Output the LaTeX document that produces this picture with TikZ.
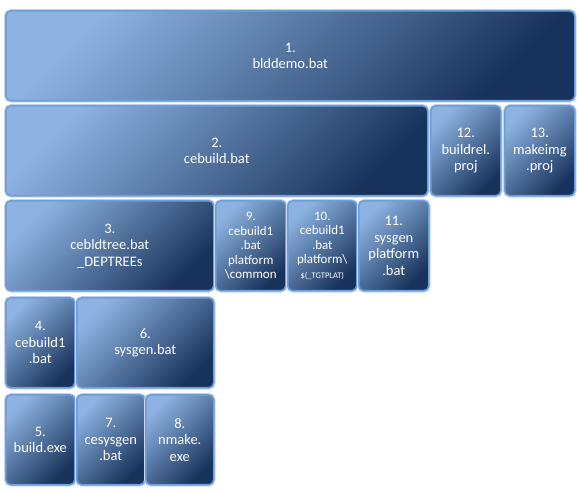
\documentclass[tikz,border=0pt]{standalone}
\usepackage{fontspec}
\setmainfont{Carlito}
\usepackage{tikz}
\definecolor{boxlight}{HTML}{8DB3E2}
\definecolor{boxmid}{HTML}{33537F}
\definecolor{boxdark}{HTML}{18335B}
\definecolor{boxedge}{HTML}{6F9DD9}
\definecolor{boxglow}{HTML}{C6D9F1}

\begin{document}
\begin{tikzpicture}[x=1pt,y=-1pt]
		\tikzset{blk/.style={rectangle, rounded corners=5pt, anchor=north west, inner sep=0pt,
				top color=boxlight, middle color=boxmid, bottom color=boxdark, shading angle=45,
				draw=boxedge, line width=1.6pt, preaction={draw=boxglow, line width=3.5pt},
				text=white, align=center, font=\fontsize{14.5}{16.5}\selectfont,
				minimum height=90pt},
			small/.style={font=\fontsize{13}{14.5}\selectfont}}
		\useasboundingbox (0,0) rectangle (579,494);
		% row 1
		\node[blk, minimum width=569pt] (blddemo) at (5,10) {1.\\blddemo.bat};
		% row 2
		\node[blk, minimum width=422pt] (cebuild) at (5,105) {2.\\cebuild.bat};
		\node[blk, minimum width=70pt] (buildrel) at (430,105) {12.\\buildrel.\\proj};
		\node[blk, minimum width=70pt] (makeimg) at (504,105) {13.\\makeimg\\.proj};
		% row 3
		\node[blk, minimum width=208pt] (cebldtree) at (5,200) {3.\\cebldtree.bat\\\_DEPTREEs};
		\node[blk, small, minimum width=70pt] (common) at (215,200) {9.\\cebuild1\\.bat\\platform\\\textbackslash common};
		\node[blk, small, minimum width=69pt] (tgtplat) at (287,200) {10.\\cebuild1\\.bat\\platform\textbackslash\\{\fontsize{8.5}{10}\selectfont\$(\_TGTPLAT)}};
		\node[blk, minimum width=70pt] (sysgenplat) at (358,200) {11.\\sysgen\\platform\\.bat};
		% row 4
		\node[blk, minimum width=69pt] (cebuildone) at (5,297) {4.\\cebuild1\\.bat};
		\node[blk, minimum width=137pt] (sysgen) at (76,297) {6.\\sysgen.bat};
		% row 5
		\node[blk, minimum width=69pt] (buildexe) at (5,394) {5.\\build.exe};
		\node[blk, minimum width=68pt] (cesysgen) at (76,394) {7.\\cesysgen\\.bat};
		\node[blk, minimum width=68pt] (nmake) at (145,394) {8.\\nmake.\\exe};
	\end{tikzpicture}
\end{document}
